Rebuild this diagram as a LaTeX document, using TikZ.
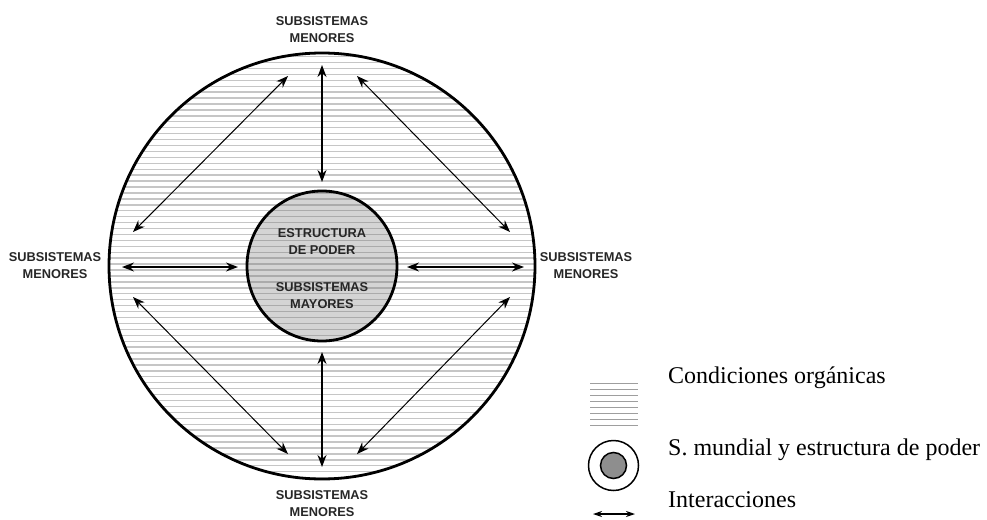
\documentclass[tikz,border=0pt]{standalone}
\usepackage{fontspec}
\setmainfont{Liberation Serif}
\newfontfamily\lblfont{Liberation Sans}
\usetikzlibrary{arrows.meta}
\definecolor{hatchgray}{HTML}{C6C6C6}
\definecolor{innergray}{HTML}{D4D4D4}
\definecolor{innerhatch}{HTML}{ABABAB}
\definecolor{leggray}{HTML}{8E8E8E}
\definecolor{lbltext}{HTML}{262626}
\begin{document}
\begin{tikzpicture}[x=1pt,y=-1pt,
  lbl/.style={font=\lblfont\fontsize{12.8}{17}\selectfont\bfseries, align=center, text=lbltext, inner sep=0pt},
  inter/.style={{Stealth[length=12pt,width=9pt]}-{Stealth[length=12pt,width=9pt]}, line width=1.3pt},
  legtxt/.style={font=\fontsize{24}{28}\selectfont, anchor=base west, inner sep=0pt},
  hatchline/.style={hatchgray, line width=1.4pt},
  ring/.style={circle, draw=black, line width=2.8pt, inner sep=0pt}]
\useasboundingbox (0,0) rectangle (987,519);
\coordinate (C) at (322,266);
% hatching of the organic conditions
\begin{scope}
  \clip (C) circle (213);
  \foreach \i in {-9,...,63} \draw[hatchline] (100,104+\i*5.93) -- (540,104+\i*5.93);
\end{scope}
\fill[innergray] (C) circle (75);
\begin{scope}
  \clip (C) circle (75);
  \foreach \i in {-9,...,63} \draw[innerhatch, line width=1.4pt] (200,104+\i*5.93) -- (450,104+\i*5.93);
\end{scope}
\node[ring, minimum size=426pt] (world) at (C) {};
\node[ring, minimum size=150pt] (core) at (C) {};
% inner texts
\node[lbl] (estr) at (322,242) {ESTRUCTURA\\DE PODER};
\node[lbl] (mayor) at (322,295.5) {SUBSISTEMAS\\MAYORES};
% outer labels
\node[lbl] (ltop) at (322,29.5) {SUBSISTEMAS\\MENORES};
\node[lbl] (lbot) at (322,503.5) {SUBSISTEMAS\\MENORES};
\node[lbl] (lleft) at (55,265.5) {SUBSISTEMAS\\MENORES};
\node[lbl] (lright) at (586,265.5) {SUBSISTEMAS\\MENORES};
% arrow end points
\coordinate (t1) at (322,65);  \coordinate (t2) at (322,182);
\coordinate (b1) at (322,352); \coordinate (b2) at (322,467);
\coordinate (l1) at (122,267); \coordinate (l2) at (238,267);
\coordinate (r1) at (407,267); \coordinate (r2) at (524,267);
\coordinate (tl1) at (133,232); \coordinate (tl2) at (288,76);
\coordinate (tr1) at (357,76);  \coordinate (tr2) at (510,232);
\coordinate (bl1) at (133,297); \coordinate (bl2) at (288,454);
\coordinate (br1) at (510,297); \coordinate (br2) at (357,454);
\draw[inter] (t1) -- (t2);
\draw[inter] (b1) -- (b2);
\draw[inter] (l1) -- (l2);
\draw[inter] (r1) -- (r2);
\draw[inter, line width=1pt] (tl1) -- (tl2);
\draw[inter, line width=1pt] (tr1) -- (tr2);
\draw[inter, line width=1pt] (bl1) -- (bl2);
\draw[inter, line width=1pt] (br1) -- (br2);
% legend
\foreach \k in {0,...,7} \draw[hatchgray!80!black, line width=1pt] (590,383+\k*6) -- (638,383+\k*6);
\node[circle, draw=black, line width=1.5pt, minimum size=50pt, inner sep=0pt] (legout) at (613.5,465.5) {};
\node[circle, draw=black, fill=leggray, line width=1.5pt, minimum size=26pt, inner sep=0pt] (legin) at (613.5,465.5) {};
\coordinate (la1) at (593,514); \coordinate (la2) at (635,514);
\draw[{Stealth[length=9pt,width=6pt]}-{Stealth[length=9pt,width=6pt]}, line width=1.2pt] (la1) -- (la2);
\node[legtxt] (tcond) at (668,383) {Condiciones orgánicas};
\node[legtxt] (tmund) at (668,455) {S. mundial y estructura de poder};
\node[legtxt] (tinter) at (668,507) {Interacciones};
\end{tikzpicture}
\end{document}
